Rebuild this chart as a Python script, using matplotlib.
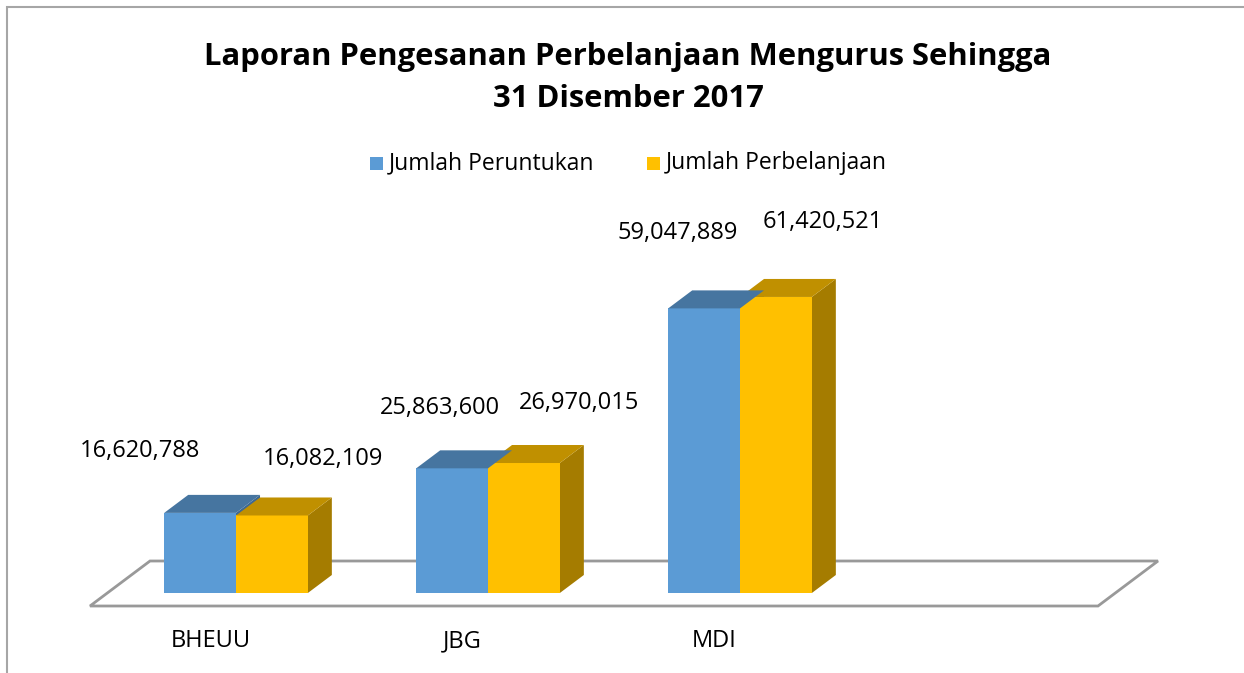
#!/usr/bin/env python3
"""Laporan Pengesanan Perbelanjaan Mengurus - 3D-look column chart."""
import matplotlib

matplotlib.use('Agg')
import matplotlib.pyplot as plt
from matplotlib.patches import Polygon, Rectangle

categories = ['BHEUU', 'JBG', 'MDI']
peruntukan = [16620788, 25863600, 59047889]
perbelanjaan = [16082109, 26970015, 61420521]
series_names = ['Jumlah Peruntukan', 'Jumlah Perbelanjaan']
title = 'Laporan Pengesanan Perbelanjaan Mengurus Sehingga\n31 Disember 2017'

FONT = 'Open Sans'
BLUE, BLUE_TOP, BLUE_SIDE = '#5B9BD5', '#4675A0', '#3E6891'
GOLD, GOLD_TOP, GOLD_SIDE = '#FFC000', '#C09000', '#A57C00'

# layout (pixel based, figure is 1244x673 at 100 dpi)
PX_X = 252.0            # px per category slot
PX_Y = 4.82e-6          # px per unit of value
X0, Y0 = 233.0, 593.0   # pixel of (slot 0 centre, value 0)
BAR_W = 0.285
DX, DY = 24 / PX_X, 18 / PX_Y  # bar depth offset in data units
N_SLOTS = 4

# per-label offsets in pixels (Excel places 3D labels a bit loosely)
lab_off_blue = [(-60, 62), (-12, 60), (-26, 75)]
lab_off_gold = [(51, 56), (55, 60), (47, 75)]


def px_to_data_x(px):
    return (px - X0) / PX_X


def px_to_data_y(py):
    return (Y0 - py) / PX_Y


def draw_box(ax, x, w, h, front, top, side):
    ax.add_patch(Rectangle((x, 0), w, h, facecolor=front, edgecolor='none', zorder=3))
    ax.add_patch(Polygon([(x, h), (x + w, h), (x + w + DX, h + DY), (x + DX, h + DY)],
                         closed=True, facecolor=top, edgecolor='none', zorder=3))
    ax.add_patch(Polygon([(x + w, 0), (x + w + DX, DY), (x + w + DX, h + DY), (x + w, h)],
                         closed=True, facecolor=side, edgecolor='none', zorder=2))


def main():
    fig = plt.figure(figsize=(12.44, 6.73), dpi=100)
    ax = fig.add_axes([0, 0, 1, 1])
    ax.set_xlim(px_to_data_x(0), px_to_data_x(1244))
    ax.set_ylim(px_to_data_y(673), px_to_data_y(0))
    ax.axis('off')

    # chart border (only top and left edges fall inside the image)
    fig.patches.append(Rectangle((7 / 1244, -0.1), 1.2, 1 - 7 / 673 + 0.1,
                                 transform=fig.transFigure, fill=False,
                                 edgecolor='#A6A6A6', lw=1.5))

    # floor
    fy0, fy1 = px_to_data_y(606), px_to_data_y(561)
    fx0 = px_to_data_x(90)
    fw = N_SLOTS
    fdx = px_to_data_x(150) - fx0
    ax.add_patch(Polygon([(fx0, fy0), (fx0 + fw, fy0), (fx0 + fw + fdx, fy1), (fx0 + fdx, fy1)],
                         closed=True, facecolor='white', edgecolor='#999999', lw=2, zorder=1))

    for i, (a, b) in enumerate(zip(peruntukan, perbelanjaan)):
        xb = i - BAR_W + 0.012
        xg = i + 0.012
        draw_box(ax, xg, BAR_W, b, GOLD, GOLD_TOP, GOLD_SIDE)
        draw_box(ax, xb, BAR_W, a, BLUE, BLUE_TOP, BLUE_SIDE)
        ox, oy = lab_off_blue[i]
        ax.annotate(f'{a:,}', (xb + BAR_W / 2, a), xytext=(ox * 0.72, oy * 0.72),
                    textcoords='offset points', ha='center', va='center',
                    fontsize=17, family=FONT, color='black')
        ox, oy = lab_off_gold[i]
        ax.annotate(f'{b:,}', (xg + BAR_W / 2, b), xytext=(ox * 0.72, oy * 0.72),
                    textcoords='offset points', ha='center', va='center',
                    fontsize=17, family=FONT, color='black')
        ax.text(i - 0.09, px_to_data_y(641), categories[i], ha='center', va='center',
                fontsize=17, family=FONT, color='black')

    # title
    fig.text(628 / 1244, 1 - 78 / 673, title, ha='center', va='center',
             fontsize=22.3, fontweight='bold', family=FONT, linespacing=1.5)

    # legend
    ly = 1 - 163 / 673
    for sx, tx, col, name in [(370, 389, BLUE, series_names[0]),
                              (647, 666, GOLD, series_names[1])]:
        fig.patches.append(Rectangle((sx / 1244, ly - 7 / 673), 13 / 1244, 13 / 673,
                                     transform=fig.transFigure, facecolor=col,
                                     edgecolor='none'))
        fig.text(tx / 1244, ly, name, ha='left', va='center', fontsize=16.5, family=FONT)

    fig.savefig('out.png', dpi=100)


if __name__ == '__main__':
    main()
